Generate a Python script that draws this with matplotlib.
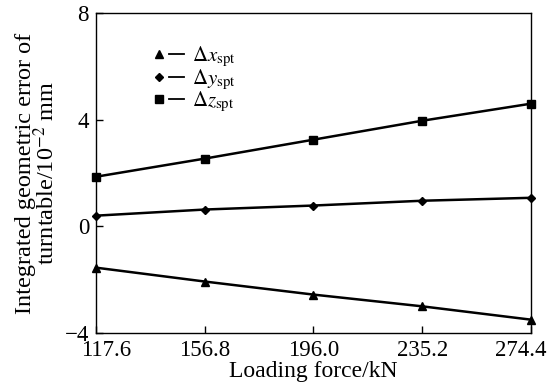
import matplotlib
matplotlib.use("Agg")
import matplotlib.pyplot as plt
import matplotlib.transforms as mtransforms
from matplotlib.lines import Line2D
from matplotlib.legend_handler import HandlerTuple

force = [117.6, 156.8, 196.0, 235.2, 274.4]
dx = [-1.55, -2.07, -2.56, -3.00, -3.50]
dy = [0.40, 0.63, 0.78, 0.96, 1.07]
dz = [1.86, 2.54, 3.25, 3.96, 4.60]
xtick_labels = ["117.6", "156.8", "196.0", "235.2", "274.4"]
yticks = [-4, 0, 4, 8]

plt.rcParams['font.family'] = ['Liberation Serif', 'DejaVu Serif']
plt.rcParams['mathtext.fontset'] = 'stix'

fig = plt.figure(figsize=(5.55, 3.91), dpi=100)
ax = fig.add_axes([96/555, 1-333/391, 435/555, 320/391])

series = [(dx, '^', r'$\Delta x_{\rm spt}$'),
          (dy, 'D', r'$\Delta y_{\rm spt}$'),
          (dz, 's', r'$\Delta z_{\rm spt}$')]
handles = []
labels = []
for vals, m, lab in series:
    ms = 6 if m != 'D' else 4.5
    ax.plot(force, vals, color='black', lw=1.8, marker=m, ms=ms, clip_on=False, zorder=3)
    h1 = Line2D([], [], color='black', marker=m, ms=ms - 0.5, ls='none')
    h2 = Line2D([], [], color='black', lw=1.3)
    handles.append((h1, h2))
    labels.append(lab)

ax.set_xlim(117.6, 274.4)
ax.set_ylim(-4, 8)
ax.set_xticks(force)
ax.set_xticklabels(xtick_labels)
ax.set_yticks(yticks)
ax.tick_params(direction='in', labelsize=16.5, length=5, width=1, top=False, right=False)
ax.tick_params(axis='x', pad=5)
ax.tick_params(axis='y', pad=5)
for s in ax.spines.values():
    s.set_linewidth(1.0)

# first and last x tick labels are drawn inward in the reference
xl = ax.get_xticklabels()
xl[0].set_transform(xl[0].get_transform() + mtransforms.ScaledTranslation(10/100, 0, fig.dpi_scale_trans))
xl[-1].set_transform(xl[-1].get_transform() + mtransforms.ScaledTranslation(-10/100, 0, fig.dpi_scale_trans))

ax.set_xlabel('Loading force/kN', fontsize=17, labelpad=0)
ax.set_ylabel('Integrated geometric error of\nturntable/10$^{-2}$ mm', fontsize=17.5,
              labelpad=4, linespacing=0.9)

leg = ax.legend(handles, labels, handler_map={tuple: HandlerTuple(ndivide=2, pad=0.1)},
                loc='upper left', bbox_to_anchor=(0.126, 0.90), frameon=False,
                fontsize=15, handlelength=1.6, handletextpad=0.4, labelspacing=-0.08,
                borderaxespad=0, borderpad=0)

fig.savefig('out.png', dpi=100)
